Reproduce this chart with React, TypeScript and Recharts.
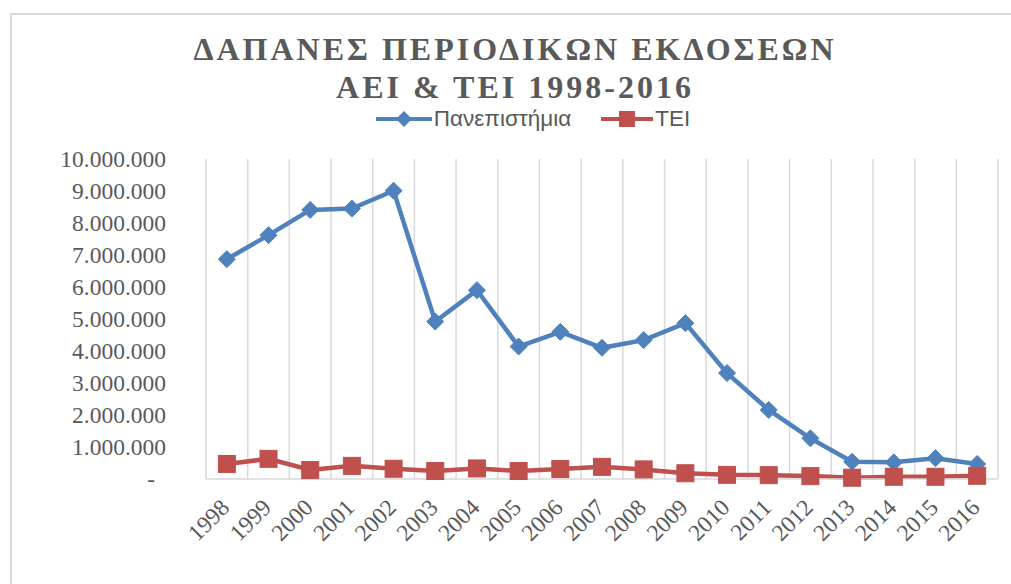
import React from 'react'
import { LineChart, Line, XAxis, YAxis, CartesianGrid } from 'recharts'

const years = [
  '1998', '1999', '2000', '2001', '2002', '2003', '2004', '2005', '2006', '2007',
  '2008', '2009', '2010', '2011', '2012', '2013', '2014', '2015', '2016',
]
const universities = [
  6870000, 7620000, 8410000, 8450000, 9010000, 4920000, 5900000, 4140000, 4600000, 4100000,
  4340000, 4870000, 3310000, 2160000, 1270000, 540000, 520000, 650000, 470000,
]
const tei = [
  470000, 630000, 280000, 410000, 320000, 250000, 330000, 250000, 310000, 380000,
  300000, 180000, 130000, 120000, 90000, 40000, 70000, 70000, 100000,
]
const yTicks = [0, 1000000, 2000000, 3000000, 4000000, 5000000, 6000000, 7000000, 8000000, 9000000, 10000000]

const BLUE = '#4F81BD'
const RED = '#C0504D'
const TEXT = '#595959'
const GRID = '#D9D9D9'
const SERIF = '"Liberation Serif", "Times New Roman", serif'
const SANS = '"Liberation Sans", Arial, sans-serif'

const data = years.map((year, i) => ({ year, uni: universities[i], tei: tei[i] }))

function fmt(v: number) {
  if (v === 0) return '-'
  return String(v).replace(/\B(?=(\d{3})+(?!\d))/g, '.')
}

function Diamond(props: any) {
  const { cx, cy } = props
  if (cx == null || cy == null) return null
  const r = 8.5
  return (
    <polygon
      points={`${cx},${cy - r} ${cx + r},${cy} ${cx},${cy + r} ${cx - r},${cy}`}
      fill={BLUE}
      stroke={BLUE}
      strokeWidth={1}
    />
  )
}

function Square(props: any) {
  const { cx, cy } = props
  if (cx == null || cy == null) return null
  const s = 17
  return <rect x={cx - s / 2} y={cy - s / 2} width={s} height={s} fill={RED} stroke={RED} strokeWidth={1} />
}

function YTick(props: any) {
  const { x, y, payload } = props
  const v = payload.value as number
  return (
    <text x={v === 0 ? x - 11 : x} y={y} dy={8} textAnchor="end" fill={TEXT} fontFamily={SERIF} fontSize={23.5}>
      {fmt(v)}
    </text>
  )
}

function XTick(props: any) {
  const { x, y, payload } = props
  const ax = x + 4
  const ay = y + 30
  return (
    <text
      x={ax}
      y={ay}
      textAnchor="end"
      fill={TEXT}
      fontFamily={SERIF}
      fontSize={23.5}
      transform={`rotate(-45, ${ax}, ${ay})`}
    >
      {payload.value}
    </text>
  )
}

function ChartLegend() {
  return (
    <div
      style={{
        position: 'absolute',
        left: 0,
        top: 106,
        width: 1066,
        display: 'flex',
        justifyContent: 'center',
        alignItems: 'center',
        fontFamily: SANS,
        fontSize: 22.5,
        color: TEXT,
      }}
    >
      <svg width={56} height={20} style={{ marginRight: 2 }}>
        <line x1={0} y1={10} x2={56} y2={10} stroke={BLUE} strokeWidth={4} />
        <polygon points="28,2 36,10 28,18 20,10" fill={BLUE} />
      </svg>
      <span>Πανεπιστήμια</span>
      <svg width={52} height={20} style={{ marginLeft: 30, marginRight: 2 }}>
        <line x1={0} y1={10} x2={52} y2={10} stroke={RED} strokeWidth={4} />
        <rect x={18} y={2} width={16} height={16} fill={RED} />
      </svg>
      <span>TEI</span>
    </div>
  )
}

export default function App() {
  const n = years.length
  return (
    <div style={{ position: 'absolute', left: 0, top: 0, width: 1011, height: 584, background: '#fff', overflow: 'hidden' }}>
      <div
        style={{
          position: 'absolute',
          left: 10,
          top: 13,
          width: 1100,
          height: 700,
          borderLeft: `2px solid ${GRID}`,
          borderTop: `2px solid ${GRID}`,
        }}
      />
      <div
        style={{
          position: 'absolute',
          left: 0,
          top: 30,
          width: 1030,
          textAlign: 'center',
          fontFamily: SERIF,
          fontWeight: 'bold',
          fontSize: 32,
          letterSpacing: 3,
          lineHeight: '38px',
          color: TEXT,
        }}
      >
        ΔΑΠΑΝΕΣ ΠΕΡΙΟΔΙΚΩΝ ΕΚΔΟΣΕΩΝ
        <br />
        ΑΕΙ &amp; ΤΕΙ 1998-2016
      </div>
      <ChartLegend />
      <div style={{ position: 'absolute', left: 0, top: 0 }}>
        <LineChart width={1011} height={584} data={data} margin={{ top: 159, right: 13, left: 0, bottom: 0 }}>
          <CartesianGrid
            horizontal={false}
            stroke={GRID}
            strokeWidth={1.5}
            verticalCoordinatesGenerator={({ offset }: any) =>
              Array.from({ length: n + 1 }, (_, i) => offset.left + (i * offset.width) / n)
            }
          />
          <XAxis
            dataKey="year"
            scale="band"
            interval={0}
            height={105}
            tickLine={false}
            tickSize={0}
            tickMargin={0}
            axisLine={{ stroke: GRID, strokeWidth: 1.5 }}
            tick={<XTick />}
          />
          <YAxis
            width={206}
            domain={[0, 10000000]}
            ticks={yTicks}
            interval={0}
            axisLine={false}
            tickLine={false}
            tickSize={0}
            tickMargin={40}
            tick={<YTick />}
          />
          <Line
            dataKey="uni"
            name="Πανεπιστήμια"
            stroke={BLUE}
            strokeWidth={4.5}
            dot={<Diamond />}
            activeDot={false}
            isAnimationActive={false}
          />
          <Line
            dataKey="tei"
            name="TEI"
            stroke={RED}
            strokeWidth={4.5}
            dot={<Square />}
            activeDot={false}
            isAnimationActive={false}
          />
        </LineChart>
      </div>
    </div>
  )
}
